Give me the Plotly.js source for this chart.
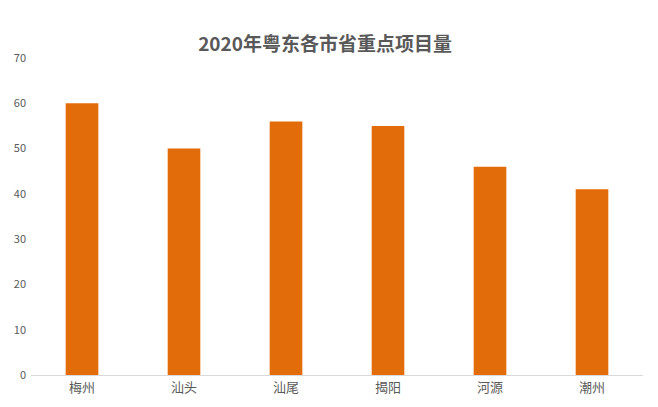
<!DOCTYPE html>
<html>
<head>
<meta charset="utf-8">
<script src="https://cdn.plot.ly/plotly-3.0.1.min.js"></script>
<style>
  html, body { margin: 0; padding: 0; background: #fff; }
  #chart { width: 658px; height: 407px; }
</style>
</head>
<body>
<div id="chart"></div>
<script>
const cities = ['梅州', '汕头', '汕尾', '揭阳', '河源', '潮州'];
const projectCounts = [60, 50, 56, 55, 46, 41];
const yTicks = [0, 10, 20, 30, 40, 50, 60, 70];

const FONT = '"Noto Sans CJK SC", "Microsoft YaHei", sans-serif';

const traces = [{
  type: 'bar',
  x: cities,
  y: projectCounts,
  marker: { color: '#E36C0A' },
  hoverinfo: 'x+y',
}];

const layout = {
  width: 658,
  height: 407,
  title: {
    text: '<b>2020年粤东各市省重点项目量</b>',
    x: 0.494,
    xanchor: 'center',
    y: 0.892,
    yanchor: 'middle',
    font: { family: FONT, size: 19, color: '#595959' },
  },
  margin: { l: 31, r: 15, t: 58, b: 32 },
  bargap: 0.68,
  xaxis: {
    showgrid: false,
    showline: true,
    linecolor: '#d9d9d9',
    linewidth: 1,
    ticks: '',
    tickfont: { family: FONT, size: 13, color: '#595959' },
  },
  yaxis: {
    range: [0, 70],
    tickvals: yTicks,
    showgrid: false,
    zeroline: false,
    showline: false,
    ticks: '',
    ticklabelstandoff: 4,
    tickfont: { family: FONT, size: 11, color: '#595959' },
  },
  paper_bgcolor: '#ffffff',
  plot_bgcolor: '#ffffff',
  showlegend: false,
};

Plotly.newPlot('chart', traces, layout, { displayModeBar: false, staticPlot: true });
</script>
</body>
</html>
